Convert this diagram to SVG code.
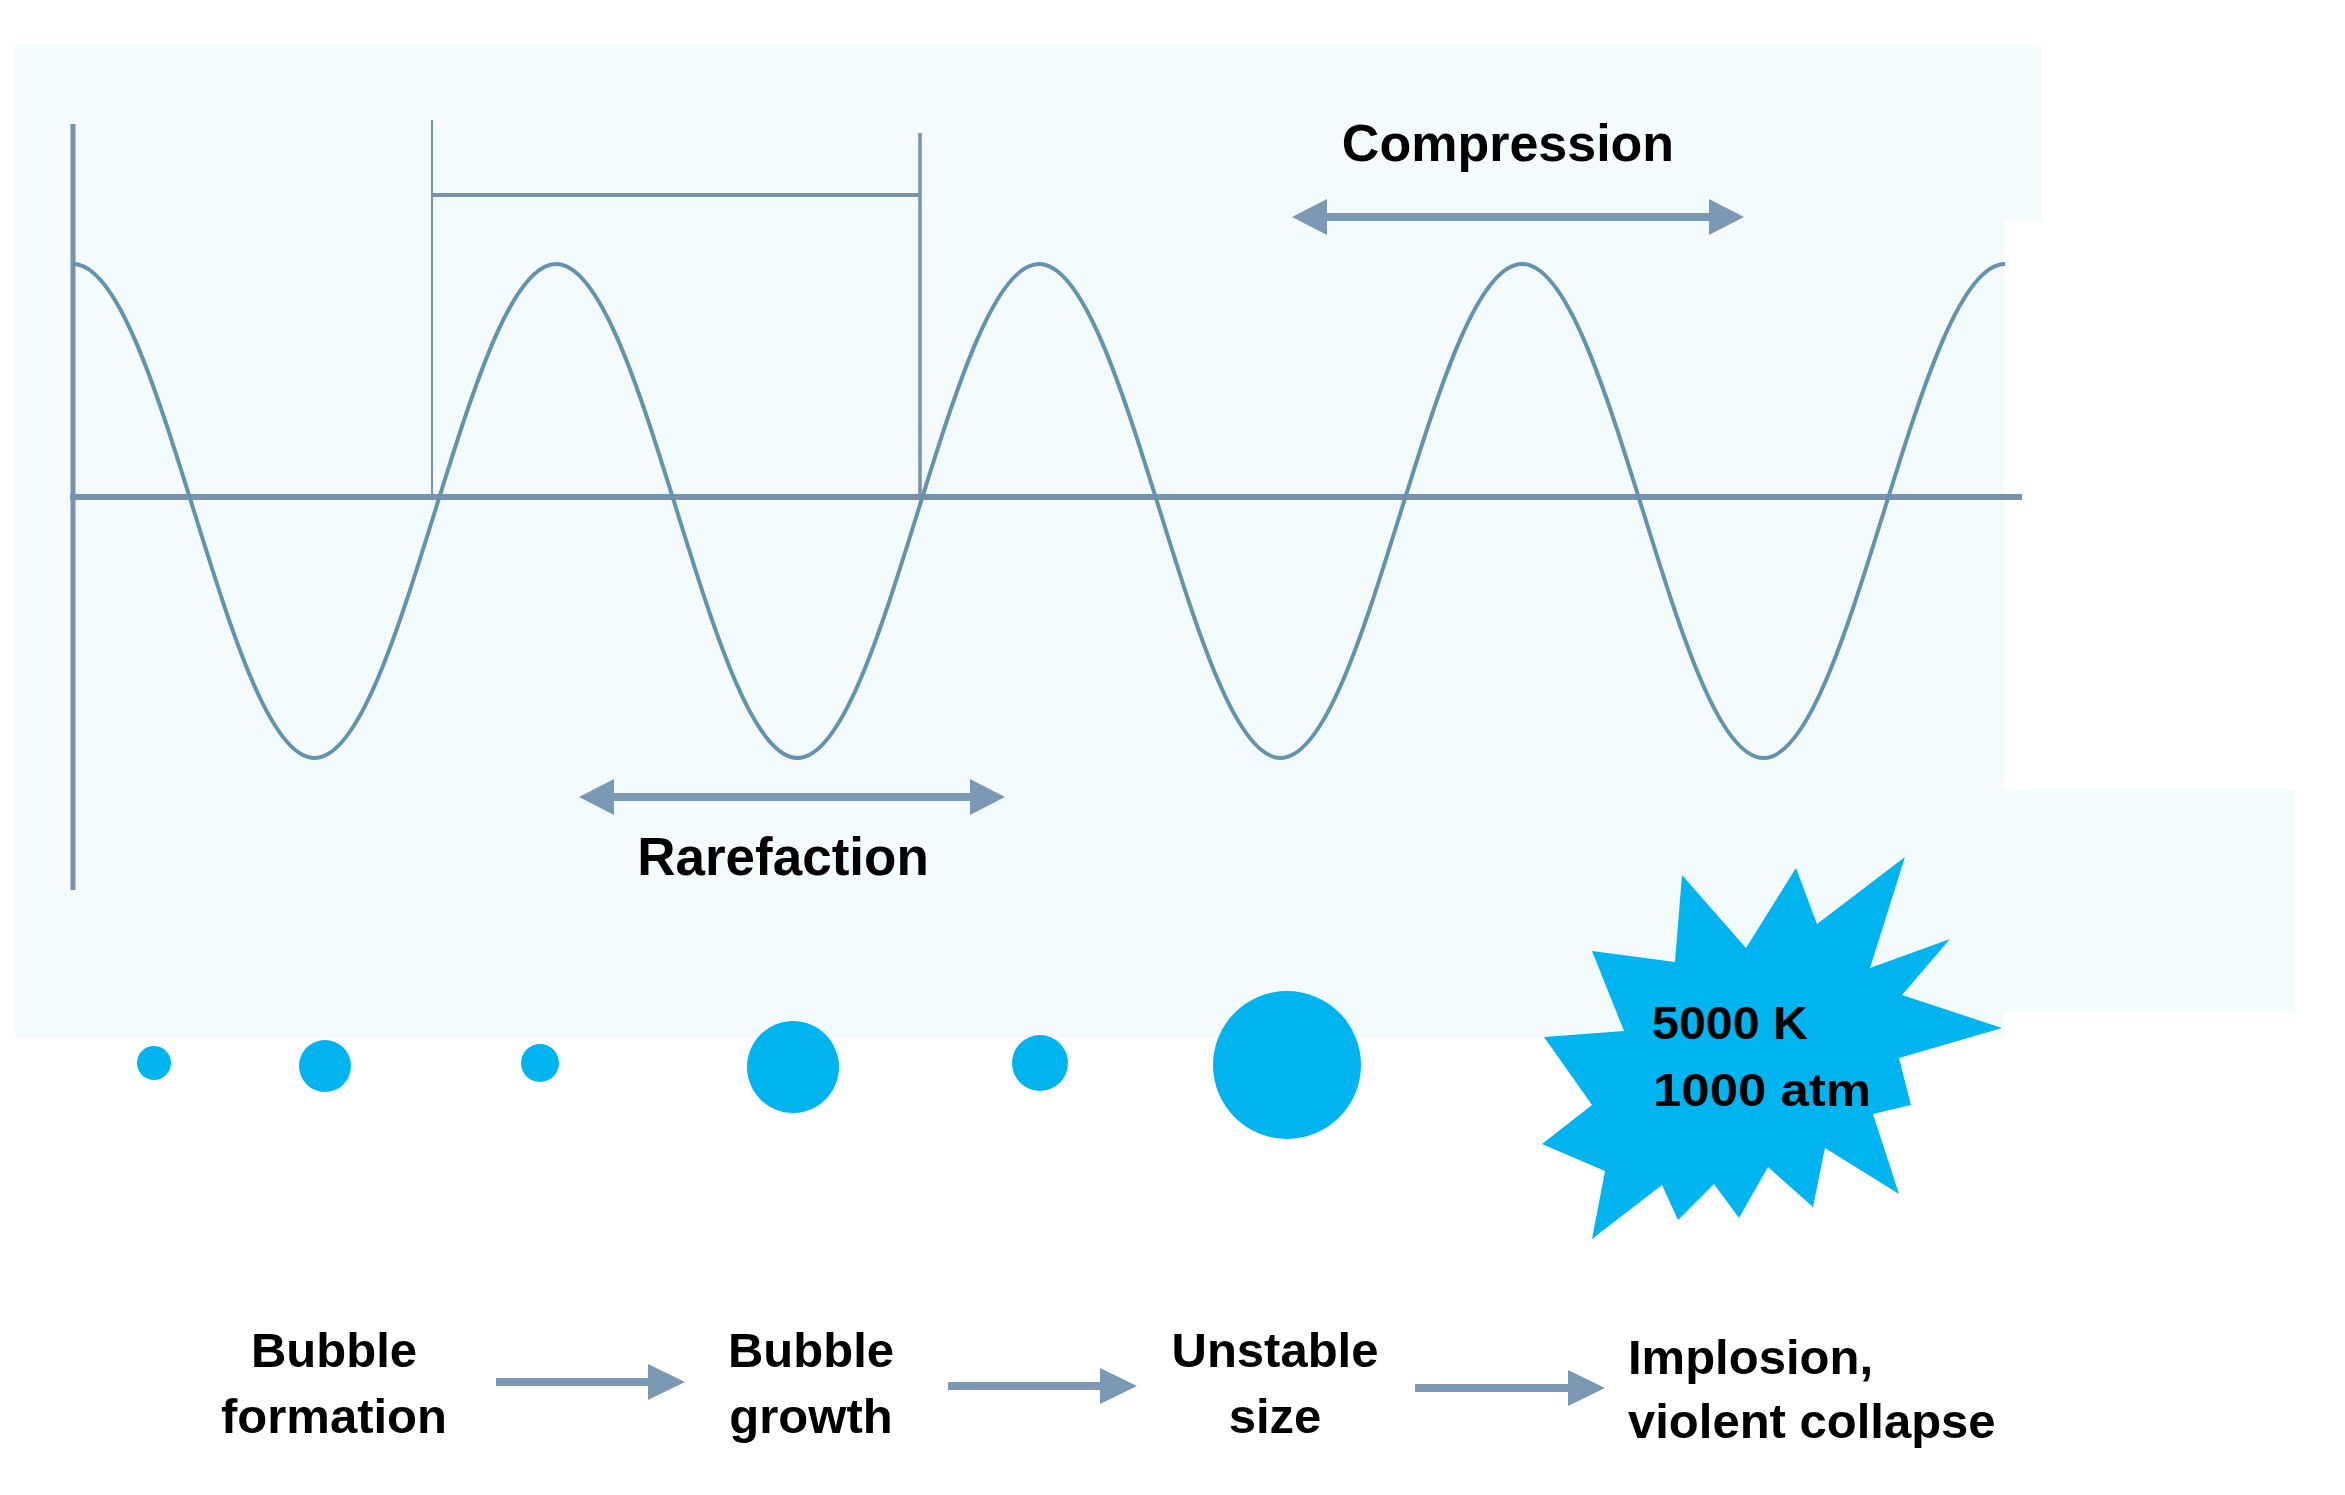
<svg xmlns="http://www.w3.org/2000/svg" width="2345" height="1495" viewBox="0 0 2345 1495">
  <defs>
    <style>
      .lbl { font-family: "Liberation Sans", Arial, sans-serif; font-weight: bold; fill: #000; }
      .bub { fill: #00b4ef; }
      .axis { stroke: #7892ad; fill: none; stroke-linecap: butt; }
      .wave { stroke: #6592ad; stroke-width: 4; fill: none; }
      .arr { fill: #7b98b5; }
    </style>
  </defs>
  <rect x="0" y="0" width="2345" height="1495" fill="#ffffff"/>
  <g id="background">
    <path d="M15,45 H2042 V221 H2004 V790 H2295 V1011 H2004 V1038 H15 Z" fill="#f4fbfd"/>
  </g>

  <g id="axes">
    <line class="axis" x1="73" y1="124" x2="73" y2="890" stroke-width="5"/>
    <line class="axis" x1="70" y1="497" x2="2022" y2="497" stroke-width="6"/>
  </g>

  <g id="wave">
    <path class="wave" d="M73,264 C161,264 227,758 314.5,758 C402,758 468,264 556,264 C644,264 710,758 797.5,758 C885,758 951,264 1039,264 C1127,264 1193,758 1280.5,758 C1368,758 1434,264 1522,264 C1610,264 1676,758 1763.5,758 C1851,758 1917,264 2005,264"/>
  </g>

  <g id="period-bracket">
    <line class="axis" x1="432" y1="120" x2="432" y2="497" stroke-width="2"/>
    <line class="axis" x1="920" y1="133" x2="920" y2="497" stroke-width="3.5"/>
    <line class="axis" x1="432" y1="195" x2="920" y2="195" stroke-width="4"/>
  </g>

  <g id="compression">
    <path class="arr" d="M1292,217 L1327,199 L1327,213 L1709,213 L1709,199 L1744,217 L1709,235 L1709,221 L1327,221 L1327,235 Z"/>
    <text class="lbl" x="1508" y="161" font-size="52" text-anchor="middle">Compression</text>
  </g>

  <g id="rarefaction">
    <path class="arr" d="M579,797 L614,779 L614,793 L970,793 L970,779 L1005,797 L970,815 L970,801 L614,801 L614,815 Z"/>
    <text class="lbl" x="783" y="875" font-size="53" text-anchor="middle">Rarefaction</text>
  </g>

  <g id="bubbles">
    <circle class="bub" cx="154" cy="1063" r="17"/>
    <circle class="bub" cx="325" cy="1066" r="26"/>
    <circle class="bub" cx="540" cy="1063" r="19"/>
    <circle class="bub" cx="793" cy="1067" r="46"/>
    <circle class="bub" cx="1040" cy="1063" r="28"/>
    <circle class="bub" cx="1287" cy="1065" r="74"/>
  </g>

  <g id="implosion-burst">
    <polygon class="bub" points="1682,875 1746,948 1796,868 1817,924 1905,857 1870,968 1950,939 1902,995 2002,1028 1899,1058 1911,1105 1873,1114 1899,1194 1825,1148 1813,1207 1768,1167 1739,1218 1714,1184 1678,1220 1662,1185 1592,1239 1605,1171 1542,1144 1592,1105 1544,1037 1624,1031 1592,951 1675,962"/>
    <text class="lbl" x="1652" y="1039" font-size="47" textLength="156" lengthAdjust="spacingAndGlyphs">5000 K</text>
    <text class="lbl" x="1653" y="1106" font-size="47" textLength="218" lengthAdjust="spacingAndGlyphs">1000 atm</text>
  </g>

  <g id="stage-formation">
    <text class="lbl" x="334" y="1367" font-size="49" text-anchor="middle">Bubble</text>
    <text class="lbl" x="334" y="1433" font-size="49" text-anchor="middle">formation</text>
  </g>
  <g id="stage-growth">
    <text class="lbl" x="811" y="1367" font-size="49" text-anchor="middle">Bubble</text>
    <text class="lbl" x="811" y="1433" font-size="49" text-anchor="middle">growth</text>
  </g>
  <g id="stage-unstable">
    <text class="lbl" x="1275" y="1367" font-size="49" text-anchor="middle">Unstable</text>
    <text class="lbl" x="1275" y="1433" font-size="49" text-anchor="middle">size</text>
  </g>
  <g id="stage-implosion">
    <text class="lbl" x="1628" y="1374" font-size="49">Implosion,</text>
    <text class="lbl" x="1628" y="1438" font-size="49">violent collapse</text>
  </g>

  <g id="connectors">
    <path class="arr" d="M496,1378 L648,1378 L648,1364 L685,1382 L648,1400 L648,1386 L496,1386 Z"/>
    <path class="arr" d="M948,1382 L1100,1382 L1100,1368 L1137,1386 L1100,1404 L1100,1390 L948,1390 Z"/>
    <path class="arr" d="M1415,1384 L1568,1384 L1568,1370 L1605,1388 L1568,1406 L1568,1392 L1415,1392 Z"/>
  </g>
</svg>
